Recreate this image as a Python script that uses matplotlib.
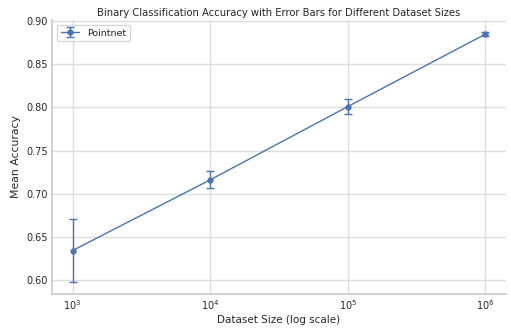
import numpy as np
import seaborn as sns
from matplotlib import pyplot as plt

sns.set_theme(style="whitegrid")

dataset_sizes = [1e3, 1e4, 1e5, 1e6]
mean_acc = [0.634, 0.716, 0.801, 0.885]
std_acc = [0.036, 0.010, 0.0085, 0.002]

fig = plt.figure(figsize=(5.11, 3.28), dpi=100)
ax = fig.add_axes([52 / 511, 1 - 294 / 328, 454 / 511, 274 / 328])

ax.errorbar(dataset_sizes, mean_acc, yerr=std_acc, fmt='-o', color='#4C72B0',
            markersize=3.5, linewidth=1, capsize=3, elinewidth=1, label='Pointnet')
ax.set_xscale('log')
ax.set_title('Binary Classification Accuracy with Error Bars for Different Dataset Sizes',
             fontsize=7.2, pad=3)
ax.set_xlabel('Dataset Size (log scale)', fontsize=7.5, labelpad=2)
ax.set_ylabel('Mean Accuracy', fontsize=7.8, labelpad=4)
ax.tick_params(labelsize=7, length=0, pad=3)
ax.tick_params(axis='x', which='minor', length=0)
ax.grid(color='#dddddd', linewidth=1)
for s in ax.spines.values():
    s.set_color('#cccccc')
ax.legend(loc='upper left', fontsize=6.8)
sns.despine(ax=ax)

fig.savefig('out.png', dpi=100)
